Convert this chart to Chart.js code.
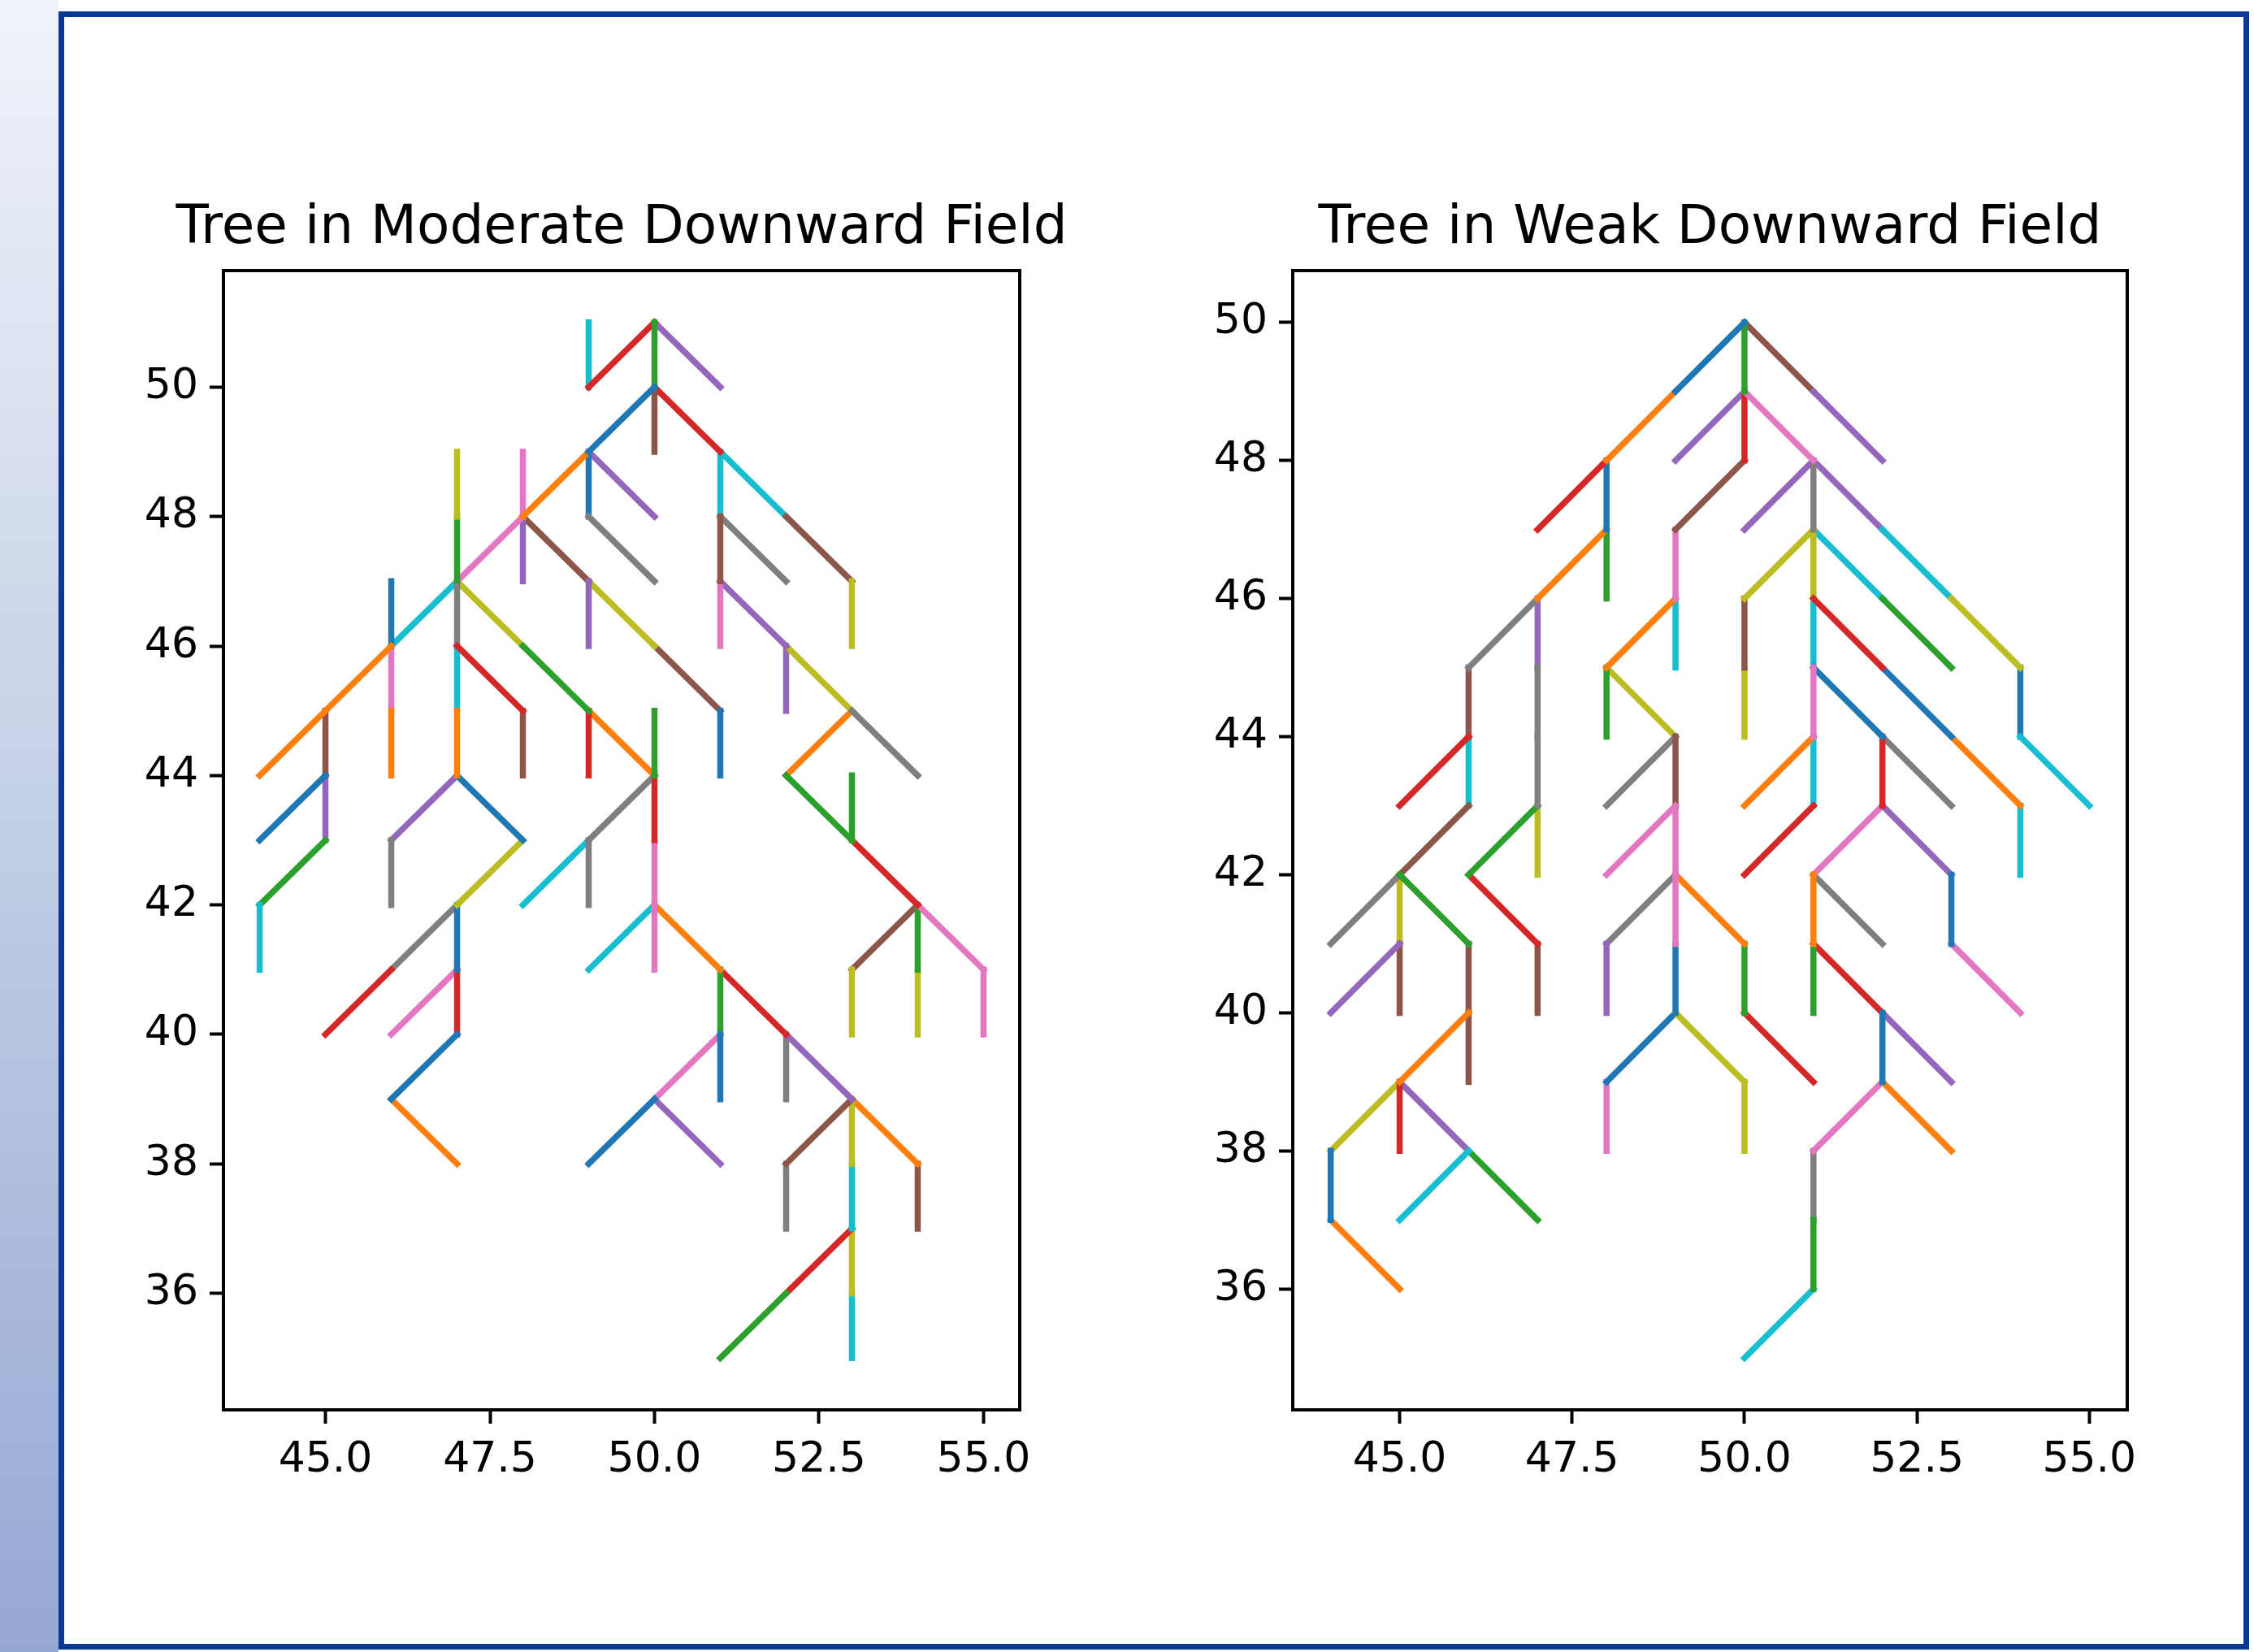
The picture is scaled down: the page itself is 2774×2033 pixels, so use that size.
<!DOCTYPE html>
<html lang="en">

<head>
    <meta charset="UTF-8">
    <title>Tree in Downward Field</title>
    <script src="https://cdn.jsdelivr.net/npm/chart.js"></script>
    <style>
        body {
            margin: 0;
            width: 2774px;
            height: 2033px;
            overflow: hidden;
            background: #fff;
            position: relative;
        }
        .strip {
            position: absolute;
            left: 0;
            top: 0;
            width: 72px;
            height: 2033px;
            background: linear-gradient(to bottom, #f1f3f9, #96a9d3);
        }
        .frame {
            position: absolute;
            left: 72px;
            top: 14px;
            width: 2696px;
            height: 2016px;
            border: 7px solid #0b3795;
            box-sizing: border-box;
            background: #fff;
        }
        canvas {
            position: absolute;
        }
        #leftTree {
            left: 145px;
            top: 240px;
        }
        #rightTree {
            left: 1461px;
            top: 240px;
        }
    </style>
</head>

<body>
    <div class="strip"></div>
    <div class="frame"></div>
    <canvas id="leftTree" width="1240" height="1615"></canvas>
    <canvas id="rightTree" width="1287" height="1615"></canvas>

    <script>
        // matplotlib tab10 cycle, segment i takes colour i % 10
        const palette = ['#1f77b4', '#ff7f0e', '#2ca02c', '#d62728', '#9467bd',
            '#8c564b', '#e377c2', '#7f7f7f', '#bcbd22', '#17becf'];

        // branch segments [x1, y1, x2, y2], one row = one pass through the colours
        const leftSegments = [
            [50, 50, 49, 49], [49, 49, 48, 48], [50, 51, 50, 50], [49, 50, 50, 51], [50, 51, 51, 50], [50, 50, 50, 49], [48, 49, 48, 48], [49, 48, 50, 47], [47, 49, 47, 48], [49, 50, 49, 51],
            [49, 49, 49, 48], [45, 45, 46, 46], [47, 48, 47, 47], [50, 50, 51, 49], [49, 49, 50, 48], [51, 48, 51, 47], [47, 47, 48, 48], [51, 48, 52, 47], [53, 47, 53, 46], [51, 49, 51, 48],
            [46, 47, 46, 46], [44, 44, 45, 45], [48, 46, 49, 45], [47, 46, 48, 45], [48, 48, 48, 47], [52, 48, 53, 47], [51, 47, 51, 46], [47, 47, 47, 46], [47, 47, 48, 46], [51, 49, 52, 48],
            [51, 45, 51, 44], [46, 45, 46, 44], [50, 45, 50, 44], [49, 45, 49, 44], [49, 47, 49, 46], [48, 48, 49, 47], [46, 46, 46, 45], [53, 45, 54, 44], [49, 47, 50, 46], [46, 46, 47, 47],
            [44, 43, 45, 44], [47, 45, 47, 44], [52, 44, 53, 43], [50, 44, 50, 43], [51, 47, 52, 46], [50, 46, 51, 45], [50, 43, 50, 42], [49, 43, 50, 44], [52, 46, 53, 45], [47, 46, 47, 45],
            [47, 44, 48, 43], [49, 45, 50, 44], [53, 44, 53, 43], [53, 43, 54, 42], [52, 46, 52, 45], [45, 45, 45, 44], [50, 42, 50, 41], [49, 43, 49, 42], [48, 43, 47, 42], [44, 42, 44, 41],
            [47, 42, 47, 41], [53, 45, 52, 44], [45, 43, 44, 42], [46, 41, 45, 40], [45, 44, 45, 43], [48, 45, 48, 44], [54, 42, 55, 41], [46, 43, 46, 42], [53, 41, 53, 40], [48, 42, 49, 43],
            [47, 40, 46, 39], [50, 42, 51, 41], [54, 42, 54, 41], [47, 41, 47, 40], [46, 43, 47, 44], [54, 42, 53, 41], [55, 41, 55, 40], [47, 42, 46, 41], [54, 41, 54, 40], [49, 41, 50, 42],
            [51, 40, 51, 39], [46, 39, 47, 38], [51, 41, 51, 40], [51, 41, 52, 40], [52, 40, 53, 39], [53, 39, 52, 38], [47, 41, 46, 40], [52, 40, 52, 39], [53, 39, 53, 38], [53, 38, 53, 37],
            [49, 38, 50, 39], [53, 39, 54, 38], [52, 36, 51, 35], [53, 37, 52, 36], [50, 39, 51, 38], [54, 38, 54, 37], [50, 39, 51, 40], [52, 38, 52, 37], [53, 37, 53, 36], [53, 36, 53, 35]
        ];

        const rightSegments = [
            [50, 50, 49, 49], [49, 49, 48, 48], [50, 50, 50, 49], [48, 48, 47, 47], [51, 49, 52, 48], [50, 50, 51, 49], [50, 49, 51, 48], [51, 48, 51, 47], [53, 46, 54, 45], [52, 47, 53, 46],
            [48, 48, 48, 47], [48, 47, 47, 46], [48, 47, 48, 46], [50, 49, 50, 48], [50, 49, 49, 48], [50, 48, 49, 47], [49, 47, 49, 46], [46, 45, 47, 46], [51, 47, 50, 46], [54, 44, 55, 43],
            [54, 45, 54, 44], [49, 46, 48, 45], [52, 46, 53, 45], [51, 46, 52, 45], [51, 48, 50, 47], [50, 46, 50, 45], [51, 45, 51, 44], [47, 45, 47, 44], [51, 47, 51, 46], [51, 47, 52, 46],
            [52, 45, 53, 44], [53, 44, 54, 43], [48, 45, 48, 44], [46, 44, 45, 43], [51, 48, 52, 47], [46, 45, 46, 44], [49, 43, 48, 42], [47, 44, 47, 43], [50, 45, 50, 44], [49, 46, 49, 45],
            [51, 45, 52, 44], [51, 44, 50, 43], [47, 43, 46, 42], [52, 44, 52, 43], [47, 46, 47, 45], [49, 44, 49, 43], [49, 43, 49, 42], [49, 44, 48, 43], [48, 45, 49, 44], [51, 46, 51, 45],
            [53, 42, 53, 41], [51, 42, 51, 41], [45, 42, 46, 41], [51, 43, 50, 42], [52, 43, 53, 42], [46, 43, 45, 42], [49, 42, 49, 41], [52, 44, 53, 43], [47, 43, 47, 42], [54, 43, 54, 42],
            [52, 40, 52, 39], [49, 42, 50, 41], [51, 41, 51, 40], [46, 42, 47, 41], [45, 41, 44, 40], [45, 41, 45, 40], [52, 43, 51, 42], [45, 42, 44, 41], [45, 42, 45, 41], [51, 44, 51, 43],
            [49, 41, 49, 40], [52, 39, 53, 38], [50, 41, 50, 40], [51, 41, 52, 40], [48, 41, 48, 40], [47, 41, 47, 40], [53, 41, 54, 40], [49, 42, 48, 41], [49, 40, 50, 39], [46, 44, 46, 43],
            [49, 40, 48, 39], [46, 40, 45, 39], [51, 37, 51, 36], [50, 40, 51, 39], [52, 40, 53, 39], [46, 41, 46, 40], [52, 39, 51, 38], [51, 42, 52, 41], [50, 39, 50, 38], [46, 38, 45, 37],
            [44, 38, 44, 37], [44, 37, 45, 36], [46, 38, 47, 37], [45, 39, 45, 38], [45, 39, 46, 38], [46, 40, 46, 39], [48, 39, 48, 38], [51, 38, 51, 37], [44, 38, 45, 39], [51, 36, 50, 35]
        ];

        const xTicks = [45, 47.5, 50, 52.5, 55];
        const leftYTicks = [36, 38, 40, 42, 44, 46, 48, 50];
        const rightYTicks = [36, 38, 40, 42, 44, 46, 48, 50];

        // axes box outline drawn over the lines like matplotlib spines
        const spines = {
            id: 'spines',
            afterDatasetsDraw(chart) {
                const a = chart.chartArea;
                const ctx = chart.ctx;
                ctx.save();
                ctx.strokeStyle = '#000';
                ctx.lineWidth = 4;
                ctx.strokeRect(a.left, a.top, a.right - a.left, a.bottom - a.top);
                ctx.restore();
            }
        };

        // title centred over the plot area, not the whole canvas
        const axesTitle = {
            id: 'axesTitle',
            afterDraw(chart, args, opts) {
                const a = chart.chartArea;
                const ctx = chart.ctx;
                ctx.save();
                ctx.fillStyle = '#000';
                ctx.font = '66px "DejaVu Sans"';
                ctx.textAlign = 'center';
                ctx.textBaseline = 'alphabetic';
                ctx.fillText(opts.text, (a.left + a.right) / 2, a.top - 34);
                ctx.restore();
            }
        };

        function makeTree(id, title, segments, yTicks, yMin, yMax) {
            const tickFont = { family: 'DejaVu Sans', size: 52 };
            const datasets = segments.map((s, i) => ({
                data: [{ x: s[0], y: s[1] }, { x: s[2], y: s[3] }],
                borderColor: palette[i % palette.length],
                borderWidth: 7.5,
                borderCapStyle: 'square',
                showLine: true,
                pointRadius: 0,
                fill: false
            }));

            return new Chart(document.getElementById(id), {
                type: 'scatter',
                data: { datasets: datasets },
                options: {
                    responsive: false,
                    animation: false,
                    devicePixelRatio: 1,
                    layout: { padding: { left: 0, right: 130, top: 93, bottom: 0 } },
                    plugins: {
                        legend: { display: false },
                        tooltip: { enabled: false },
                        title: { display: false },
                        axesTitle: { text: title }
                    },
                    scales: {
                        x: {
                            type: 'linear',
                            min: 43.45,
                            max: 55.55,
                            afterBuildTicks: (scale) => { scale.ticks = xTicks.map(v => ({ value: v })); },
                            afterFit: (scale) => { scale.height = 120; },
                            border: { display: false },
                            grid: {
                                drawOnChartArea: false,
                                drawTicks: true,
                                tickLength: 17,
                                tickWidth: 4,
                                tickColor: '#000'
                            },
                            ticks: {
                                color: '#000',
                                font: tickFont,
                                padding: 14,
                                maxRotation: 0,
                                callback: (v) => v.toFixed(1)
                            }
                        },
                        y: {
                            type: 'linear',
                            min: yMin,
                            max: yMax,
                            afterBuildTicks: (scale) => { scale.ticks = yTicks.map(v => ({ value: v })); },
                            afterFit: (scale) => { scale.width = 130; },
                            border: { display: false },
                            grid: {
                                drawOnChartArea: false,
                                drawTicks: true,
                                tickLength: 17,
                                tickWidth: 4,
                                tickColor: '#000'
                            },
                            ticks: {
                                color: '#000',
                                font: tickFont,
                                padding: 14,
                                callback: (v) => String(v)
                            }
                        }
                    }
                },
                plugins: [spines, axesTitle]
            });
        }

        makeTree('leftTree', 'Tree in Moderate Downward Field', leftSegments, leftYTicks, 34.2, 51.8);
        makeTree('rightTree', 'Tree in Weak Downward Field', rightSegments, rightYTicks, 34.25, 50.75);
    </script>
</body>

</html>
